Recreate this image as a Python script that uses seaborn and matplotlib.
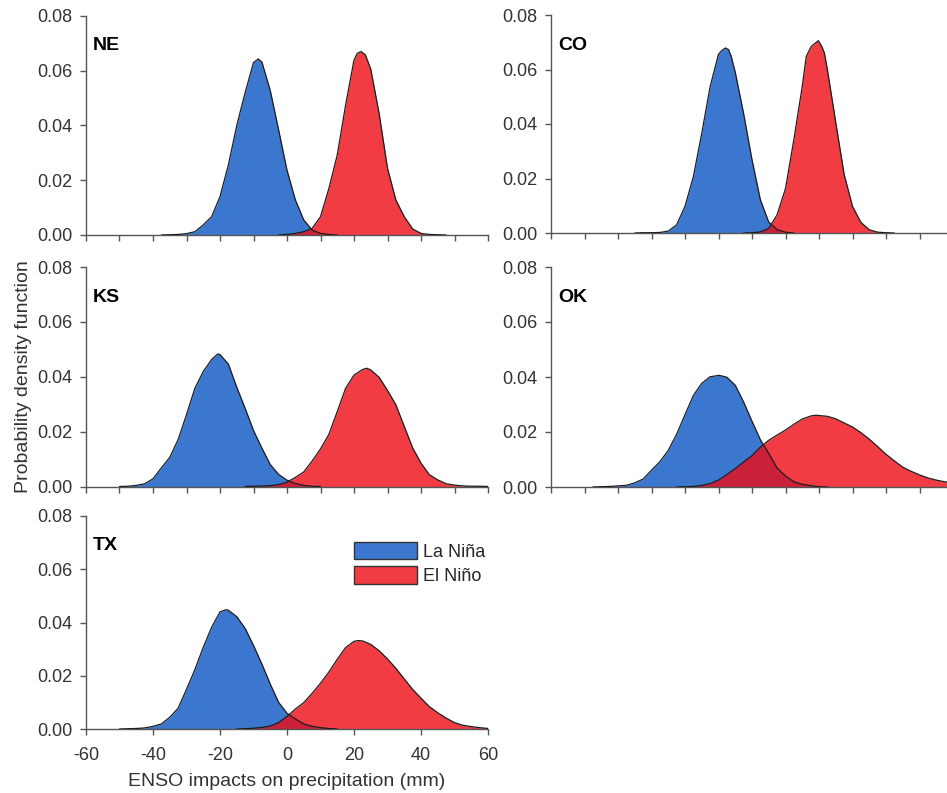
import numpy as np
import pandas as pd
import seaborn as sns
import matplotlib.pyplot as plt
from matplotlib.patches import Patch
from matplotlib.ticker import FormatStrFormatter
from matplotlib.colors import to_rgba

# Density curves (x in mm, pdf values)
# Nebraska
ne_nina_x = [-37.5, -35, -32.5, -30, -27.5, -25, -22.5, -20, -17.5, -15, -12.5, -10, -8.6,
             -7.5, -5, -2.5, 0, 2.5, 5, 7.5, 10, 12.5, 15]
ne_nina_pdf = [0, 0.0001, 0.0002, 0.0005, 0.0012, 0.0037, 0.0067, 0.014, 0.0256, 0.040, 0.052,
               0.0630, 0.0643, 0.0632, 0.0528, 0.0384, 0.0237, 0.0128, 0.0055, 0.0018, 0.0006,
               0.0002, 0]
ne_nino_x = [-2.5, 0, 2.5, 5, 7.5, 10, 12.5, 15, 17.5, 20, 21, 22.1, 23.4, 25, 27.5, 30, 32.5,
             35, 37.5, 40, 42.5, 45, 47.5]
ne_nino_pdf = [0, 0.0002, 0.0006, 0.0012, 0.0024, 0.0067, 0.017, 0.0292, 0.0475, 0.0639,
               0.0664, 0.067, 0.0658, 0.0606, 0.0444, 0.0244, 0.0128, 0.0067, 0.0022, 0.0006,
               0.0002, 0.0001, 0]

# Colorado
co_nina_x = [-35, -32.5, -30, -27.5, -25, -22.5, -20, -17.5, -15, -12.5, -10, -9, -7.9, -7,
             -6.2, -5, -2.5, 0, 2.5, 5, 7.5, 10, 12.5]
co_nina_pdf = [0, 0.0001, 0.0001, 0.0002, 0.0007, 0.003, 0.0098, 0.0207, 0.0366, 0.0537,
               0.0656, 0.0670, 0.0679, 0.0673, 0.0648, 0.059, 0.0438, 0.0269, 0.0122, 0.0040,
               0.0012, 0.0003, 0]
co_nino_x = [-2.5, 0, 2.5, 5, 7.5, 10, 12.5, 15, 16.2, 17.7, 19.8, 20.8, 21.6, 22.5, 25, 27.5,
             30, 32.5, 35, 37.5, 40, 42.5]
co_nino_pdf = [0, 0.0001, 0.0004, 0.0017, 0.0067, 0.0163, 0.0343, 0.0538, 0.0648, 0.0685,
               0.0706, 0.0685, 0.0661, 0.060, 0.0406, 0.0215, 0.0098, 0.0039, 0.0012, 0.0003,
               0.0001, 0]

# Kansas
ks_nina_x = [-50, -47.5, -45, -42.5, -40, -37.5, -35, -32.5, -30, -27.5, -25, -22.5, -20.7,
             -20, -17.5, -15, -12.5, -10, -7.5, -5, -2.5, 0, 2.5, 5, 7.5, 10]
ks_nina_pdf = [0, 0.0001, 0.0004, 0.001, 0.0028, 0.0068, 0.0106, 0.0171, 0.0262, 0.0358,
               0.0419, 0.0463, 0.0483, 0.0481, 0.0446, 0.0362, 0.0285, 0.0204, 0.014, 0.008,
               0.0044, 0.0023, 0.0011, 0.0004, 0.0001, 0]
ks_nino_x = [-12.5, -10, -7.5, -5, -2.5, 0, 2.5, 5, 7.5, 10, 12.5, 15, 17.5, 20, 22.5, 23.8,
             25, 27.5, 30, 32.5, 35, 37.5, 40, 42.5, 45, 47.5, 50, 52.5, 55, 57.5, 60]
ks_nino_pdf = [0, 0.0001, 0.0002, 0.0003, 0.0007, 0.0016, 0.0033, 0.0053, 0.0093, 0.0137,
               0.019, 0.0273, 0.0358, 0.0406, 0.0426, 0.0431, 0.0425, 0.0398, 0.035, 0.0298,
               0.0219, 0.0141, 0.0085, 0.0043, 0.0024, 0.001, 0.0005, 0.0002, 0.0001, 0.0001, 0]

# Oklahoma
ok_nina_x = [-47.5, -45, -42.5, -40, -37.5, -35, -32.5, -30, -27.5, -25, -22.5, -20, -17.5,
             -15, -12.5, -9.7, -7.5, -5, -2.5, 0, 2.5, 5, 7.5, 10, 12.5, 15, 17.5, 20, 22.5]
ok_nina_pdf = [0, 0.0001, 0.0002, 0.0004, 0.0006, 0.0015, 0.0029, 0.0061, 0.0092, 0.0133,
               0.0192, 0.0263, 0.0333, 0.0377, 0.0401, 0.0406, 0.0399, 0.037, 0.0309, 0.0239,
               0.0172, 0.0122, 0.0069, 0.004, 0.0019, 0.001, 0.0005, 0.0001, 0]
ok_nino_x = [-22.5, -20, -17.5, -15, -12.5, -10, -7.5, -5, -2.5, 0, 2.5, 5, 7.5, 10, 12.5,
             15, 17.5, 19.1, 22.5, 25, 27.5, 30, 32.5, 35, 37.5, 40, 42.5, 45, 47.5, 50, 52.5,
             55, 57.5, 60]
ok_nino_pdf = [0, 0.0001, 0.0002, 0.0006, 0.0012, 0.0025, 0.0045, 0.0067, 0.0091, 0.0114,
               0.0145, 0.017, 0.0189, 0.0207, 0.0228, 0.0247, 0.0258, 0.0261, 0.0257, 0.0248,
               0.0233, 0.0218, 0.0198, 0.0174, 0.0147, 0.0119, 0.0095, 0.0072, 0.0057, 0.0044,
               0.0033, 0.0025, 0.0019, 0.0015]

# Texas
tx_nina_x = [-50, -47.5, -45, -42.5, -40, -37.5, -35, -32.5, -30, -27.5, -25, -22.5, -20,
             -18.2, -17.5, -15, -12.5, -10, -7.5, -5, -2.5, 0, 2.5, 5, 7.5, 10, 12.5, 15]
tx_nina_pdf = [0, 0.0001, 0.0002, 0.0004, 0.001, 0.0019, 0.0044, 0.0078, 0.0149, 0.0223,
               0.0307, 0.0382, 0.044, 0.0448, 0.0446, 0.0422, 0.0378, 0.0314, 0.0244, 0.0169,
               0.01, 0.0059, 0.0038, 0.0019, 0.001, 0.0005, 0.0002, 0]
tx_nino_x = [-15, -12.5, -10, -7.5, -5, -2.5, 0, 2.5, 5, 7.5, 10, 12.5, 15, 17.5, 20, 21.1,
             22.5, 25, 27.5, 30, 32.5, 35, 37.5, 40, 42.5, 45, 47.5, 50, 52.5, 55, 57.5, 60]
tx_nino_pdf = [0, 0.0001, 0.0003, 0.0006, 0.0011, 0.0024, 0.0047, 0.0075, 0.0099, 0.0134,
               0.0172, 0.0214, 0.0262, 0.0306, 0.0329, 0.0332, 0.0331, 0.0318, 0.0294, 0.0263,
               0.0228, 0.0188, 0.0149, 0.0116, 0.0084, 0.0061, 0.0041, 0.0024, 0.0014, 0.0009,
               0.0005, 0.0002]

states = ['NE', 'CO', 'KS', 'OK', 'TX']
series_labels = ['La Niña', 'El Niño']
y_ticks = [0.0, 0.02, 0.04, 0.06, 0.08]

curves = {
    'NE': [(ne_nina_x, ne_nina_pdf), (ne_nino_x, ne_nino_pdf)],
    'CO': [(co_nina_x, co_nina_pdf), (co_nino_x, co_nino_pdf)],
    'KS': [(ks_nina_x, ks_nina_pdf), (ks_nino_x, ks_nino_pdf)],
    'OK': [(ok_nina_x, ok_nina_pdf), (ok_nino_x, ok_nino_pdf)],
    'TX': [(tx_nina_x, tx_nina_pdf), (tx_nino_x, tx_nino_pdf)],
}

sns.set_style('ticks')
plt.rcParams['font.family'] = ['Liberation Sans', 'DejaVu Sans']
plt.rcParams['axes.unicode_minus'] = False

blue = '#0a54c4'
red = '#ef0b15'
fill_alpha = 0.8

W, H = 947, 793
fig = plt.figure(figsize=(W / 100, H / 100), dpi=100)

# panel boxes in pixels: left, top, bottom
boxes = {
    'NE': (86, 16, 235),
    'CO': (551, 15, 233),
    'KS': (86, 267, 486.5),
    'OK': (551, 267, 487),
    'TX': (86, 516, 729),
}
ax_w = 402

axes = {}
for st in states:
    left, top, bottom = boxes[st]
    ax = fig.add_axes([left / W, 1 - bottom / H, ax_w / W, (bottom - top) / H])
    axes[st] = ax

    for (x, pdf), col in zip(curves[st], [blue, red]):
        ax.fill_between(x, pdf, 0, facecolor=col, alpha=fill_alpha, lw=0, zorder=2)
        sns.lineplot(x=x, y=pdf, ax=ax, color='#1c1c1c', lw=0.9, zorder=3)

    ax.set_xlim(-60, 60)
    ax.set_ylim(0, 0.08)
    ax.set_yticks(y_ticks)
    ax.yaxis.set_major_formatter(FormatStrFormatter('%.2f'))
    if st == 'TX':
        ax.set_xticks(np.arange(-60, 61, 20))
    else:
        ax.set_xticks(np.arange(-60, 61, 10))
        ax.set_xticklabels([])
    ax.set_xlabel('')
    ax.set_ylabel('')

    sns.despine(ax=ax)
    for side in ['left', 'bottom']:
        ax.spines[side].set_color('#555555')
        ax.spines[side].set_linewidth(1.0)
    ax.tick_params(axis='both', direction='out', length=4, width=1.0, color='#555555',
                   labelsize=13, labelcolor='#333333')
    ax.tick_params(axis='y', pad=5.5)
    ax.tick_params(axis='x', pad=9)

    h = bottom - top
    ax.text(7 / ax_w, 1 - 30 / h, st, transform=ax.transAxes, fontsize=14,
            fontweight='bold', ha='left', va='center', color='black')

axes['KS'].set_ylabel('Probability density function', fontsize=14, color='#333333')
axes['KS'].yaxis.set_label_coords(-0.135, 0.5)
axes['TX'].set_xlabel('ENSO impacts on precipitation (mm)', fontsize=14, color='#333333')
axes['TX'].xaxis.set_label_coords(0.5, -0.205)

handles = [Patch(facecolor=to_rgba(c, fill_alpha), edgecolor='#333333', linewidth=1.0)
           for c in [blue, red]]
axes['TX'].legend(handles, series_labels, loc='upper left',
                  bbox_to_anchor=(354 / W, 1 - 542 / H), bbox_transform=fig.transFigure,
                  frameon=False, fontsize=13, handlelength=3.5, handleheight=1.1,
                  handletextpad=0.3, labelspacing=0.3, borderpad=0, borderaxespad=0)

fig.savefig('out.png', dpi=100)
plt.close(fig)
